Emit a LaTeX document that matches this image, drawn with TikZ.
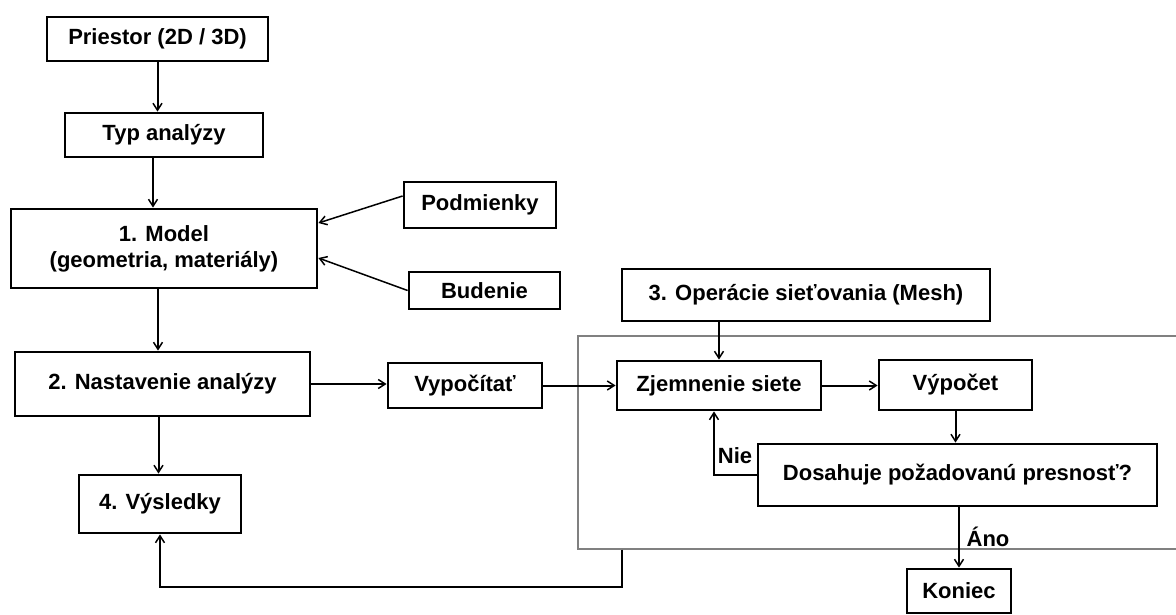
\documentclass[tikz,border=0pt]{standalone}
\usepackage{fontspec}
\setmainfont{Liberation Sans}
\usepackage{xcolor}
\usetikzlibrary{arrows.meta,positioning,calc}

\begin{document}
\begin{tikzpicture}[
  x=1pt, y=-1pt,
  font=\fontsize{22}{26}\selectfont\bfseries,
  box/.style 2 args={draw, line width=2.8pt, inner sep=0pt,
                     minimum width=#1, minimum height=#2},
  grp/.style={draw=gray, line width=1.3pt, inner sep=0pt},
  arr/.style={line width=2pt, -{Straight Barb[length=7pt,width=9pt,line width=1.5pt]}},
  thin arr/.style={arr, line width=1.5pt},
  lbl/.style={inner sep=0pt},
]
\useasboundingbox (0,0) rectangle (1176,615);

% group frame of the mesh loop
\node[grp, minimum width=600pt, minimum height=213pt] (frame) at (878,442.5) {};

% left column
\node[box={221pt}{44pt}] (prie) at (157.5,39) {Priestor (2D / 3D)};
\node[box={198pt}{44pt}] (typ) at (164,135) {Typ analýzy};
\node[box={306pt}{79pt}, align=center] (model) at (164,248.5)
  {1. Model\\(geometria, materiály)};
\node[box={152pt}{46pt}] (podm) at (480,205) {Podmienky};
\node[box={151pt}{37pt}] (bud) at (484.5,290.5) {Budenie};
\node[box={295pt}{64pt}] (nast) at (162.5,384) {2. Nastavenie analýzy};
\node[box={154pt}{45pt}] (vyp) at (465,385.5) {Vypočítať};
\node[box={162pt}{58pt}] (vysl) at (160,504) {4. Výsledky};

% mesh loop
\node[box={368pt}{52pt}] (mesh) at (806,295) {3. Operácie sieťovania (Mesh)};
\node[box={204pt}{49pt}] (zjem) at (719,385.5) {Zjemnenie siete};
\node[box={153pt}{50pt}] (vypoc) at (955.5,385) {Výpočet};
\node[box={399pt}{62pt}] (dos) at (957.5,475) {Dosahuje požadovanú presnosť?};
\node[box={104pt}{44pt}] (kon) at (959,591) {Koniec};
\node[lbl] (nie) at (735,456) {Nie};
\node[lbl] (ano) at (988,537) {Áno};

% connectors
\draw[arr] (prie.south) -- (prie.south |- typ.north);
\draw[arr] ([xshift=-11pt]typ.south) -- ([xshift=-11pt]typ.south |- model.north);
\draw[thin arr] ([yshift=9pt]podm.west) -- ([yshift=25.5pt]model.east);
\draw[thin arr] (bud.west) -- ([yshift=-9.5pt]model.east);
\draw[arr] ([xshift=-6pt]model.south) -- ([xshift=-6pt]model.south |- nast.north);
\draw[arr] ([xshift=-4pt]nast.south) -- ([xshift=-4pt]nast.south |- vysl.north);
\draw[arr] (nast.east) -- (nast.east -| vyp.west);
\draw[arr] (vyp.east) -- (vyp.east -| zjem.west);
\draw[arr] (mesh.south -| zjem.north) -- (zjem.north);
\draw[arr] (zjem.east) -- (zjem.east -| vypoc.west);
\draw[arr] (vypoc.south) -- (vypoc.south |- dos.north);
\draw[arr] (dos.west) -| ([xshift=-5pt]zjem.south);
\draw[arr] (dos.south -| kon.north) -- (kon.north);
\draw[arr] ([xshift=45pt]frame.south west) -- ++(0,37) -| (vysl.south);
\end{tikzpicture}
\end{document}
